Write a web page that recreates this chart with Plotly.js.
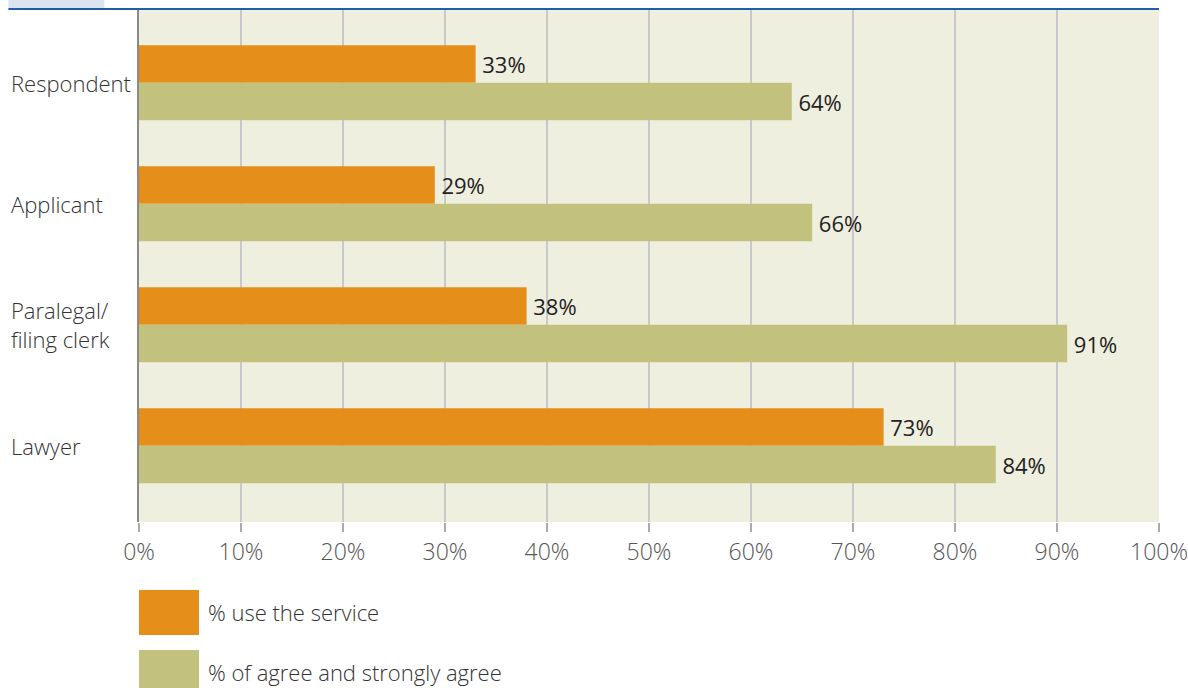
<!DOCTYPE html>
<html><head><meta charset="utf-8">
<script src="https://cdn.plot.ly/plotly-3.0.1.min.js"></script>
<style>html,body{margin:0;padding:0;background:#fff}#chart{width:1188px;height:688px}</style>
</head><body><div id="chart"></div>
<script>
const categories = ["Respondent", "Applicant", "Paralegal/<br>filing clerk", "Lawyer"];
const seriesNames = ["% use the service", "% of agree and strongly agree"];
const useService = [33, 29, 38, 73];
const agree = [64, 66, 91, 84];
const xTicks = [0,10,20,30,40,50,60,70,80,90,100];
const xTickLabels = xTicks.map(v => v + "%");
const colors = ["#E58E1A", "#C2C27E"];

const font = "'Open Sans', 'Noto Sans', sans-serif";
function mk(vals, i) {
  return {
    type: "bar", orientation: "h", name: seriesNames[i],
    y: categories, x: vals,
    marker: {color: colors[i]},
    text: vals.map(v => "\u2009" + v + "%"), textposition: "outside",
    constraintext: "none",
    textfont: {family: font, size: 22, color: "#222", weight: 400},
    cliponaxis: false, showlegend: false, hoverinfo: "skip"
  };
}
const data = [mk(useService, 0), mk(agree, 1)];

const annotations = categories.map(c => ({
  xref: "paper", yref: "y", x: -0.1275, y: c, xanchor: "left", yanchor: "middle",
  align: "left", text: c, showarrow: false,
  font: {family: font, size: 22, color: "#333", weight: 300}
}));
const shapes = [
  {type: "rect", xref: "paper", yref: "paper", x0: -0.128, x1: -0.034, y0: 1.0, y1: 1.03, fillcolor: "#DCE4EF", line: {width: 0}, layer: "above"},
  {type: "line", xref: "paper", yref: "paper", x0: -0.128, x1: 1.0, y0: 1.0, y1: 1.0, line: {color: "#1F5FA8", width: 2}, layer: "above"}
];
// custom legend
seriesNames.forEach((n, i) => {
  shapes.push({type: "rect", xref: "paper", yref: "paper", x0: 0, x1: 60/1020,
    y0: (522 - (590 + i*60 + 45)) / 513, y1: (522 - (590 + i*60)) / 513,
    fillcolor: colors[i], line: {width: 0}});
  annotations.push({xref: "paper", yref: "paper", x: 67/1020, y: (522 - (612 + i*60)) / 513,
    xanchor: "left", yanchor: "middle", text: n, showarrow: false,
    font: {family: font, size: 22, color: "#333", weight: 300}});
});

const layout = {
  width: 1188, height: 688,
  margin: {l: 139, r: 29, t: 9, b: 166},
  paper_bgcolor: "#fff", plot_bgcolor: "#EFEFDF",
  barmode: "group", bargap: 0.38, bargroupgap: 0,
  xaxis: {range: [0, 100], tickvals: xTicks, ticktext: xTickLabels,
    showgrid: true, gridcolor: "#C8C8C8", gridwidth: 1.5,
    ticks: "outside", ticklen: 9, tickcolor: "#AAAAAA", tickwidth: 1.5,
    zeroline: false, showline: false,
    tickfont: {family: font, size: 23, color: "#555", weight: 300}, fixedrange: true},
  yaxis: {range: [3.63, -0.61], showticklabels: false, showgrid: false,
    showline: true, linecolor: "#8A8A8A", linewidth: 2, ticks: "", zeroline: false},
  annotations, shapes,
  font: {family: font}
};
Plotly.newPlot("chart", data, layout, {displayModeBar: false, staticPlot: true});
</script></body></html>
